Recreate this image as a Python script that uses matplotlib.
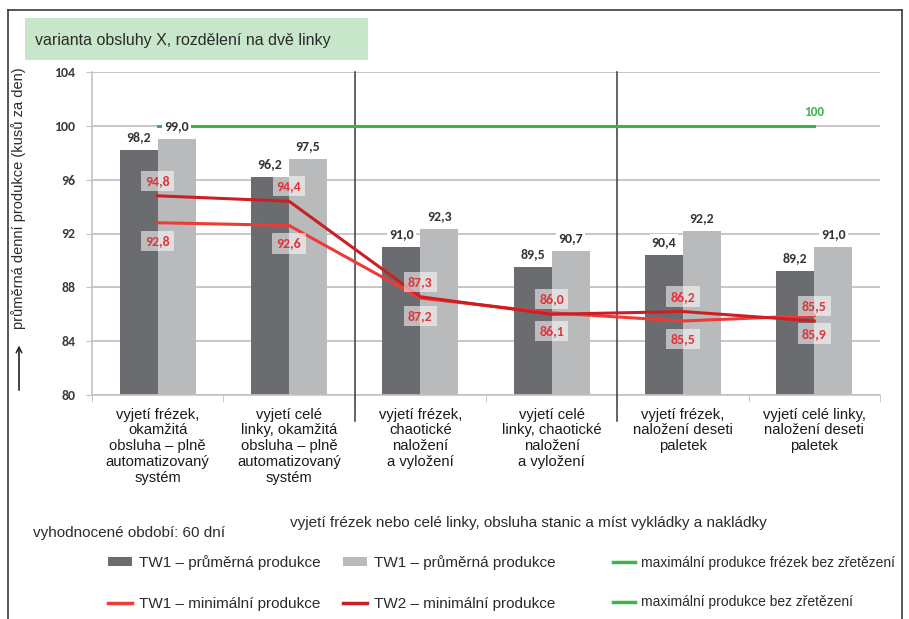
import matplotlib
matplotlib.use('Agg')
import matplotlib.pyplot as plt
from matplotlib import font_manager
from matplotlib.lines import Line2D
from matplotlib.patches import Patch, Rectangle
import numpy as np

categories = [
    'vyjetí frézek,\nokamžitá\nobsluha – plně\nautomatizovaný\nsystém',
    'vyjetí celé\nlinky, okamžitá\nobsluha – plně\nautomatizovaný\nsystém',
    'vyjetí frézek,\nchaotické\nnaložení\na vyložení',
    'vyjetí celé\nlinky, chaotické\nnaložení\na vyložení',
    'vyjetí frézek,\nnaložení deseti\npaletek',
    'vyjetí celé linky,\nnaložení deseti\npaletek',
]
avg_dark = [98.2, 96.2, 91.0, 89.5, 90.4, 89.2]
avg_light = [99.0, 97.5, 92.3, 90.7, 92.2, 91.0]
tw1_min = [92.8, 92.6, 87.2, 86.1, 85.5, 85.9]
tw2_min = [94.8, 94.4, 87.3, 86.0, 86.2, 85.5]
max_level = 100
yticks = [80, 84, 88, 92, 96, 100, 104]

legend_cols = [
    ['TW1 – průměrná produkce', 'TW1 – minimální produkce'],
    ['TW1 – průměrná produkce', 'TW2 – minimální produkce'],
    ['maximální produkce frézek bez zřetězení', 'maximální produkce bez zřetězení'],
]

installed = {f.name for f in font_manager.fontManager.ttflist}
numfont = 'Carlito' if 'Carlito' in installed else 'DejaVu Sans'
plt.rcParams['font.family'] = ['Liberation Sans', 'DejaVu Sans']

W, H = 909, 619
def fx(x):
    return x / W
def fy(y):
    return 1 - y / H

dark_c = '#6b6c70'
light_c = '#b9babc'
green_c = '#3db44a'
red1_c = '#ee3b37'
red2_c = '#cc1f24'
grid_c = '#c3c3c3'
txt_c = '#2b2b2b'

def fmt(v):
    return f'{v:.1f}'.replace('.', ',')

fig = plt.figure(figsize=(W / 100, H / 100), dpi=100)
ax = fig.add_axes([fx(92), fy(395), fx(880) - fx(92), (395 - 72) / H])

x = np.arange(len(categories))
bw = 0.29
ax.bar(x - bw / 2, avg_dark, bw, color=dark_c, zorder=2)
ax.bar(x + bw / 2, avg_light, bw, color=light_c, zorder=2)

ax.set_xlim(-0.5, len(categories) - 0.5)
ax.set_ylim(80, 104)
ax.set_yticks(yticks)
ax.set_yticklabels([str(t) for t in yticks], fontfamily=numfont,
                   fontsize=10, fontweight='bold', color='#3a3a3a')
ax.set_xticks(x)
ax.set_xticklabels(categories, fontsize=10.6, color='#1a1a1a', linespacing=1.17)
ax.set_xticks(np.arange(-0.5, len(categories)), minor=True)
ax.tick_params(axis='x', which='major', length=0, pad=9)
ax.tick_params(axis='x', which='minor', length=5, color=grid_c)
ax.tick_params(axis='y', length=4, color=grid_c, pad=8)
ax.grid(axis='y', color=grid_c, lw=1.3, zorder=0)
ax.set_axisbelow(True)
for side in ['top', 'right']:
    ax.spines[side].set_visible(False)
for side in ['left', 'bottom']:
    ax.spines[side].set_color(grid_c)
    ax.spines[side].set_linewidth(1.2)

# section dividers between the three handling variants
for xs in [1.5, 3.5]:
    ax.axvline(xs, ymin=-0.08, ymax=1, color='#3a3a3a', lw=1.1, clip_on=False, zorder=3)

# maximum production level
ax.plot([x[0], x[-1]], [max_level, max_level], color=green_c, lw=2.2, zorder=3)
ax.annotate(str(max_level), (x[-1], max_level), xytext=(0, 14), textcoords='offset pixels',
            ha='center', va='center', color=green_c, fontfamily=numfont,
            fontsize=9.5, fontweight='bold')

# bar value labels
for xs, vals in [(x - bw / 2, avg_dark), (x + bw / 2, avg_light)]:
    for xi, v in zip(xs, vals):
        ax.annotate(fmt(v), (xi, v), xytext=(0, 13),
                    textcoords='offset pixels', ha='center', va='center',
                    fontfamily=numfont, fontsize=10, fontweight='bold', color='#333333',
                    bbox=dict(boxstyle='square,pad=0.15', fc='white', ec='none'), zorder=5)

# minimum production lines
ax.plot(x, tw1_min, color=red1_c, lw=2.2, zorder=4)
ax.plot(x, tw2_min, color=red2_c, lw=2.2, zorder=4)
for vals, dy in [(tw2_min, 15), (tw1_min, -18)]:
    for xi, v in zip(x, vals):
        ax.annotate(fmt(v), (xi, v), xytext=(0, dy),
                    textcoords='offset pixels', ha='center', va='center',
                    fontfamily=numfont, fontsize=10, fontweight='bold', color='#e0343a',
                    bbox=dict(boxstyle='square,pad=0.3', fc='white', ec='none', alpha=0.55),
                    zorder=6)

# outer frame, open at the bottom
frame_kw = dict(color='#3a3a3a', lw=1.2, transform=fig.transFigure)
fig.add_artist(Line2D([fx(8), fx(8)], [0, fy(10)], **frame_kw))
fig.add_artist(Line2D([fx(8), fx(902)], [fy(10), fy(10)], **frame_kw))
fig.add_artist(Line2D([fx(902), fx(902)], [fy(10), 0], **frame_kw))

# title box
fig.add_artist(Rectangle((fx(25), fy(60)), fx(368) - fx(25), (60 - 18) / H,
                         transform=fig.transFigure, fc='#c8e7ca', ec='none'))
fig.text(fx(35), fy(40), 'varianta obsluhy X, rozdělení na dvě linky',
         fontsize=11.5, color=txt_c, va='center', ha='left')

# y axis label with arrow
fig.text(fx(19), fy(198), 'průměrná denní produkce (kusů za den)', rotation=90,
         fontsize=10.5, color=txt_c, va='center', ha='center')
fig.add_artist(plt.annotate('', xy=(fx(19), fy(343)), xytext=(fx(19), fy(393)),
                            xycoords='figure fraction',
                            arrowprops=dict(arrowstyle='->', color=txt_c, lw=0.9)))

fig.text(fx(33), fy(533), 'vyhodnocené období: 60 dní',
         fontsize=11, color=txt_c, va='center', ha='left')
fig.text(fx(290), fy(523), 'vyjetí frézek nebo celé linky, obsluha stanic a míst vykládky a nakládky',
         fontsize=11, color=txt_c, va='center', ha='left')

# legend, one block per column
col_handles = [
    [Patch(fc=dark_c, ec='none'), Line2D([], [], color=red1_c, lw=2.5)],
    [Patch(fc=light_c, ec='none'), Line2D([], [], color=red2_c, lw=2.5)],
    [Line2D([], [], color=green_c, lw=2.5), Line2D([], [], color=green_c, lw=2.5)],
]
col_x = [108, 343, 613]
col_size = [11, 11, 10]
col_top = [555, 555, 555.5]
col_spacing = [1.78, 1.78, 1.84]
col_hlen = [1.55, 1.55, 1.55]
for hx, hs, labs, sz, top, sp, hl in zip(col_x, col_handles, legend_cols, col_size,
                                         col_top, col_spacing, col_hlen):
    fig.legend(hs, labs, loc='upper left', bbox_to_anchor=(fx(hx), fy(top)),
               frameon=False, borderpad=0, borderaxespad=0,
               prop={'size': sz}, labelcolor=txt_c,
               handlelength=hl, handleheight=0.45, handletextpad=0.45,
               labelspacing=sp)

fig.savefig('out.png', dpi=100)
